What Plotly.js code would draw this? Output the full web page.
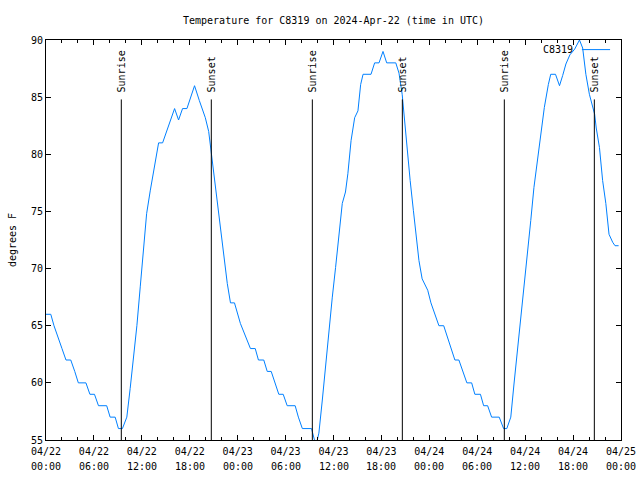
<!DOCTYPE html>
<html>
<head>
<meta charset="utf-8">
<script src="https://cdn.plot.ly/plotly-3.0.1.min.js"></script>
<style>html,body{margin:0;padding:0;background:#fff}#chart{width:640px;height:480px}</style>
</head>
<body>
<div id="chart"></div>
<script>
// hours since 2024-04-22 00:00 UTC
const hours = [0.0,0.6,1.0,1.55,2.0,2.5,3.1,3.6,4.05,5.0,5.5,6.07,6.57,7.6,8.03,8.66,9.07,9.57,
  10.12,10.54,10.96,11.38,11.8,12.2,12.6,13.05,13.46,13.9,14.1,14.6,15.1,15.6,16.1,16.6,17.1,17.65,18.1,18.6,
  19.2,19.95,20.37,20.66,21.0,21.4,21.8,22.25,22.7,23.1,23.6,24.34,25.0,25.6,26.2,26.6,27.27,27.7,28.2,28.7,
  29.15,29.7,30.2,31.2,31.6,32.1,33.25,33.8,34.17,34.6,35.0,35.4,35.85,36.26,36.7,37.1,37.5,37.8,38.2,38.65,
  39.06,39.4,39.7,40.7,41.15,41.7,42.2,42.66,43.8,44.2,44.6,44.83,45.17,45.6,46.0,46.4,46.7,47.1,47.8,48.2,
  49.2,49.8,50.5,51.2,51.7,52.7,53.3,53.7,54.4,54.8,55.3,55.8,56.75,57.3,57.7,58.2,58.6,59.06,59.5,59.9,
  60.3,60.7,61.1,61.6,62.0,62.4,62.9,63.2,63.8,64.3,64.7,65.1,65.6,66.2,66.8,67.2,67.6,68.04,68.7,68.9,
  69.3,69.7,70.1,70.5,70.96,71.25,71.7];
const tempF = [66,66,65,64,63,62,62,61,60,60,59,59,58,58,57,57,56,56,
  57,59.5,62,65,68.4,72,74.8,76.8,78.4,80.3,81,81,82,83,84,83,84,84,85,86,
  84.7,83.2,82,80.3,78.3,76.2,73.6,71,68.7,67,67,65.2,64,63,63,62,62,61,61,60,
  59,59,58,58,57,56,56,54.5,55.6,58.5,61.4,64.6,67.5,70.1,73.3,75.7,76.7,78.3,81.2,83.2,
  83.8,86.1,87,87,88,88,89,88,88,87.1,85.25,83.5,80.6,77.7,75.1,72.5,70.7,69.1,68.1,67,
  65,65,63.4,62,62,60,60,59,59,58,58,57,57,56,56,57,59.9,62.9,66.1,69,
  71.6,74.2,77.1,79.7,82,84.1,86.1,87,87,86,86.9,87.9,88.7,89.2,90,89.3,87,85.25,83.5,82.3,
  80.6,77.7,75.7,73,72.3,72,72];
const sunriseHours = [9.43, 33.35, 57.39];
const sunsetHours = [20.70, 44.62, 68.66];
const tickHours = [0,6,12,18,24,30,36,42,48,54,60,66,72];
const tickDates = ["04/22","04/22","04/22","04/22","04/23","04/23","04/23","04/23",
  "04/24","04/24","04/24","04/24","04/25"];
const tickTimes = ["00:00","06:00","12:00","18:00","00:00","06:00","12:00","18:00",
  "00:00","06:00","12:00","18:00","00:00"];
const seriesName = "C8319";
const titleText = "Temperature for C8319 on 2024-Apr-22 (time in UTC)";

const FONT = "DejaVu Sans Mono, monospace";
const shapes = [];
const annotations = [];
function marker(h, label) {
  shapes.push({type:'line', xref:'x', yref:'y', x0:h, x1:h, y0:55, y1:84.8,
    line:{color:'#000', width:1}});
  annotations.push({x:h, y:85.35, xref:'x', yref:'y', text:label, textangle:-90,
    showarrow:false, xanchor:'center', yanchor:'bottom', borderpad:0,
    font:{family:FONT, size:10, color:'#000'}});
}
sunriseHours.forEach(h => marker(h, 'Sunrise'));
sunsetHours.forEach(h => marker(h, 'Sunset'));

// second row of the time-axis labels
tickHours.forEach((h, i) => annotations.push({x:h, y:-0.067, xref:'x', yref:'paper',
  text:tickTimes[i], showarrow:false, xanchor:'center', yanchor:'middle', borderpad:0,
  font:{family:FONT, size:10, color:'#000'}}));

// legend (gnuplot style: text then sample line)
annotations.push({x:0.918, y:0.976, xref:'paper', yref:'paper', text:seriesName,
  showarrow:false, xanchor:'right', yanchor:'middle', borderpad:0,
  font:{family:FONT, size:10, color:'#000'}});
shapes.push({type:'line', xref:'paper', yref:'paper', x0:0.932, x1:0.981, y0:0.976, y1:0.976,
  line:{color:'#0080ff', width:1}});

const trace = {x:hours, y:tempF, type:'scatter', mode:'lines', name:seriesName,
  line:{color:'#0080ff', width:1}, cliponaxis:true, hoverinfo:'skip'};

const layout = {
  width:640, height:480,
  margin:{l:46, r:19, t:40, b:40, pad:0},
  paper_bgcolor:'#fff', plot_bgcolor:'#fff',
  showlegend:false,
  font:{family:FONT, size:10, color:'#000'},
  title:{text:titleText, x:0.5, xref:'paper', xanchor:'center', y:1-20/480, yref:'container', yanchor:'middle',
    font:{family:FONT, size:10, color:'#000'}},
  xaxis:{range:[0,72], tickmode:'array', tickvals:tickHours, ticktext:tickDates,
    ticks:'inside', ticklen:5, tickcolor:'#000', tickwidth:1, ticklabelstandoff:2,
    minor:{tickmode:'linear', tick0:0, dtick:2, ticks:'inside', ticklen:3, tickcolor:'#000', tickwidth:1},
    showline:true, linecolor:'#000', linewidth:1, mirror:'ticks', showgrid:false, zeroline:false,
    tickfont:{family:FONT, size:10, color:'#000'}, fixedrange:true},
  yaxis:{range:[55,90], tickmode:'linear', tick0:55, dtick:5,
    ticks:'inside', ticklen:5, tickcolor:'#000', tickwidth:1,
    showline:true, linecolor:'#000', linewidth:1, mirror:'ticks', showgrid:false, zeroline:false,
    tickfont:{family:FONT, size:10, color:'#000'}, fixedrange:true,
    title:{text:'degrees F', standoff:12, font:{family:FONT, size:10, color:'#000'}}},
  shapes:shapes, annotations:annotations
};
Plotly.newPlot('chart', [trace], layout, {staticPlot:true, displayModeBar:false});
</script>
</body>
</html>
